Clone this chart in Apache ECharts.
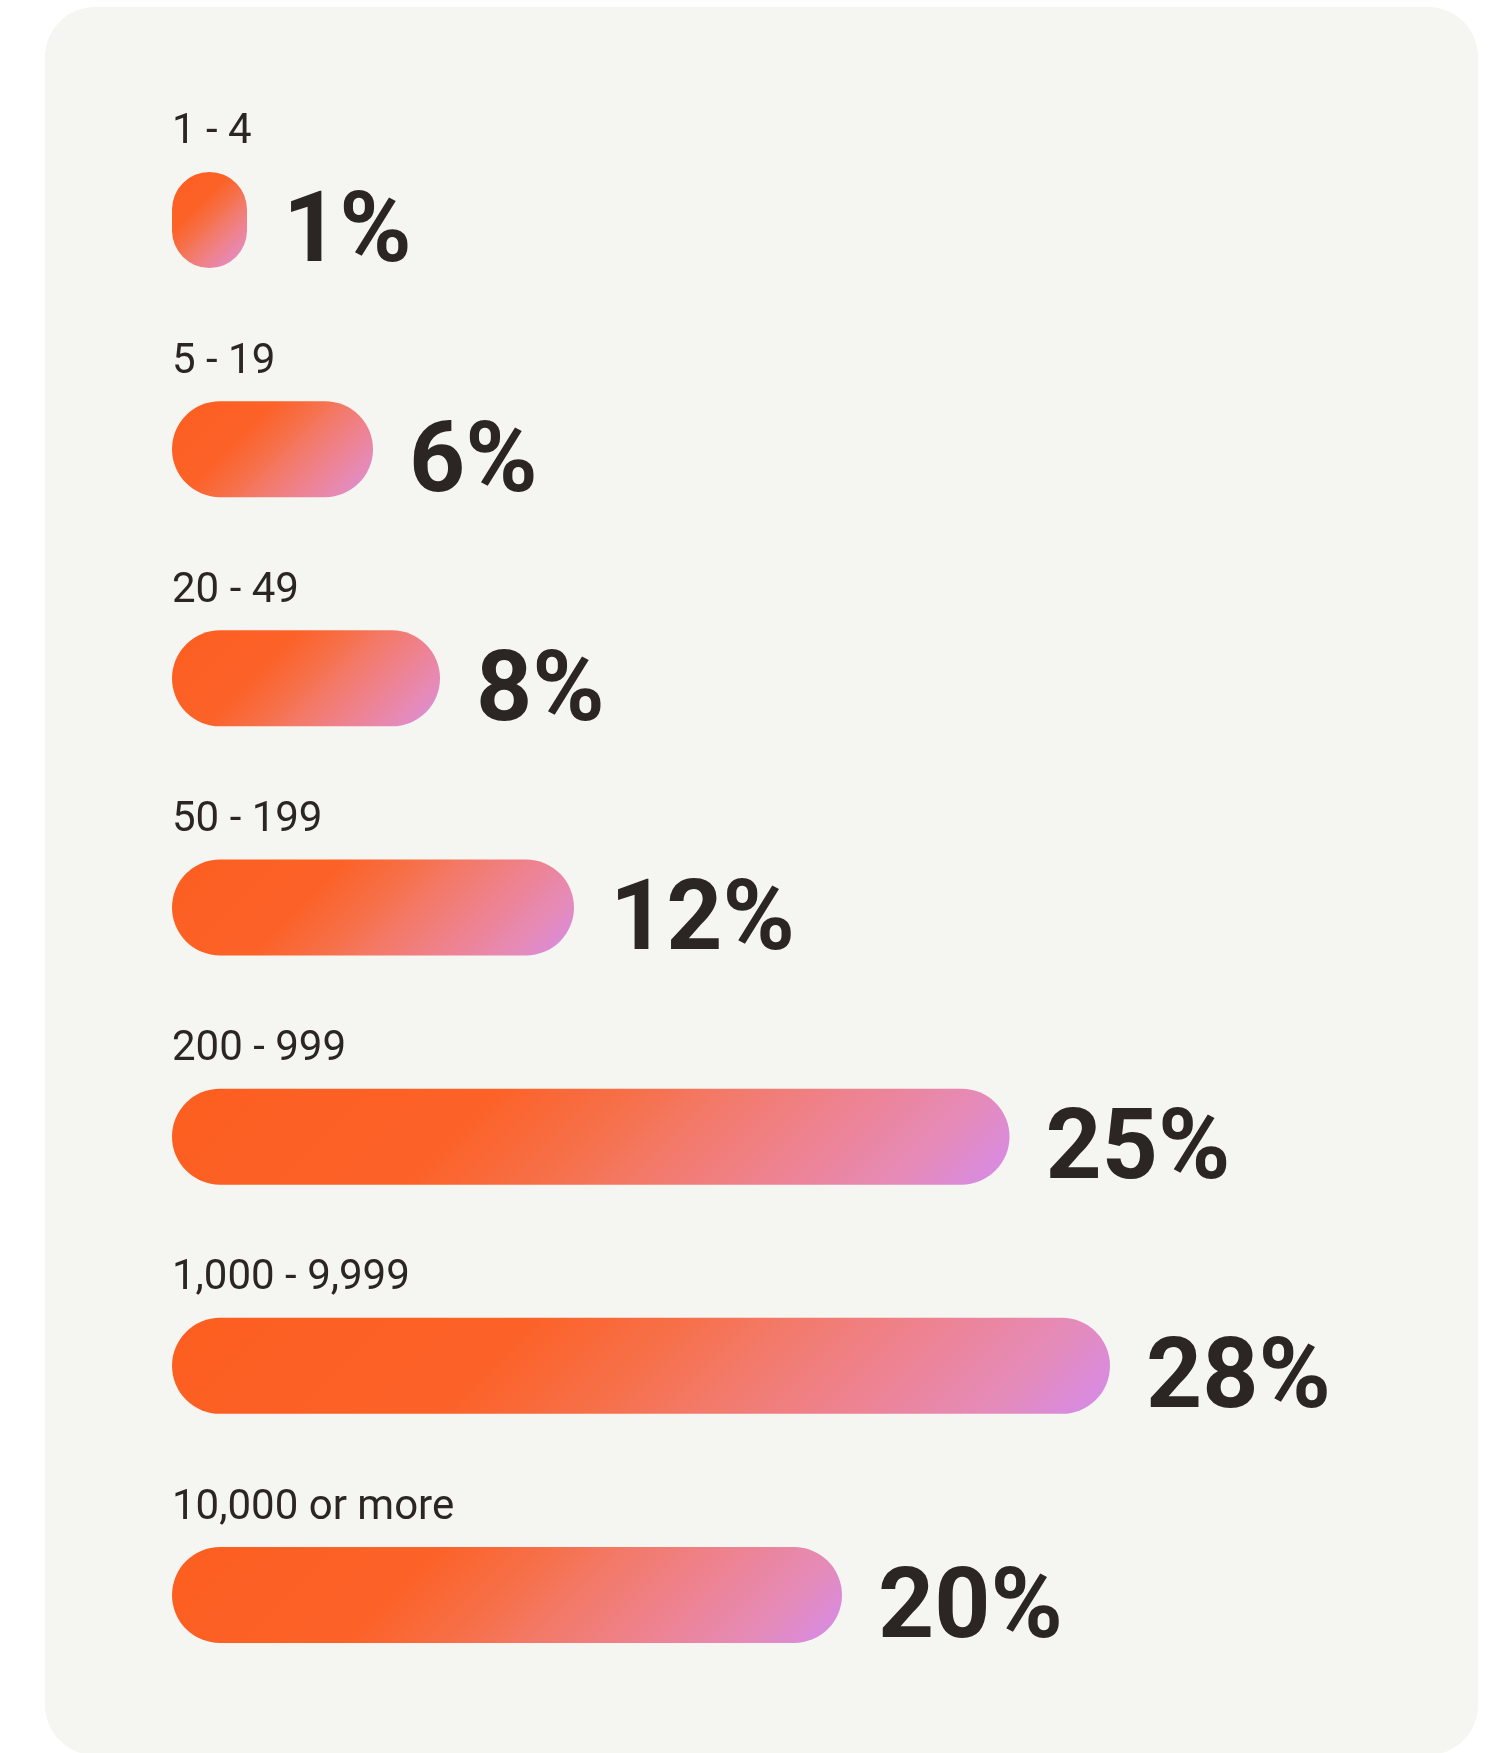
<!DOCTYPE html>
<html>
<head>
<meta charset="utf-8">
<script src="https://cdn.jsdelivr.net/npm/echarts@6/dist/echarts.min.js"></script>
<style>
  html, body { margin: 0; padding: 0; background: #ffffff; }
  #chart { width: 1501px; height: 1753px; }
</style>
</head>
<body>
<div id="chart"></div>
<script>
// Data
const categories = ['1 - 4', '5 - 19', '20 - 49', '50 - 199', '200 - 999', '1,000 - 9,999', '10,000 or more'];
const shares = [1, 6, 8, 12, 25, 28, 20];

const BAR_H = 96;
const MIN_LEN = 75;
const gradientStops = [
  { offset: 0, color: '#fd5e20' },
  { offset: 0.35, color: '#fc6228' },
  { offset: 0.5, color: '#f6704a' },
  { offset: 0.6, color: '#f37a6a' },
  { offset: 0.75, color: '#ed8394' },
  { offset: 0.88, color: '#e58bba' },
  { offset: 1, color: '#d48bec' }
];

// 135deg (top-left -> bottom-right) gradient in pixel space for a w x h box
function diagGradient(w, h) {
  const s = Math.SQRT1_2;
  const L = (w + h) * s;
  const x0px = w / 2 - s * L / 2, y0px = h / 2 - s * L / 2;
  const x0 = x0px / w, y0 = y0px / h;
  return new echarts.graphic.LinearGradient(x0, y0, 1 - x0, 1 - y0, gradientStops);
}

const chart = echarts.init(document.getElementById('chart'), null, { renderer: 'canvas' });

const option = {
  animation: false,
  backgroundColor: '#ffffff',
  graphic: [{
    type: 'rect',
    silent: true,
    z: -10,
    shape: { x: 45, y: 7, width: 1433, height: 1748, r: 50 },
    style: { fill: '#f5f5f1' }
  }],
  grid: { left: 172, top: 105.4, bottom: 43.4, width: 1005 },
  xAxis: { type: 'value', min: 0, max: 30, show: false },
  yAxis: { type: 'category', data: categories, inverse: true, show: false },
  series: [
    {
      type: 'bar',
      data: shares,
      barWidth: BAR_H,
      barMinHeight: MIN_LEN,
      itemStyle: { color: '#fd5e20', borderRadius: 48 },
      label: {
        show: true,
        position: 'right',
        distance: 36,
        offset: [0, 17],
        formatter: p => p.value + '%',
        fontFamily: 'Roboto',
        fontWeight: 'bold',
        fontSize: 98,
        color: '#2b2624'
      }
    },
    {
      type: 'bar',
      data: shares,
      barWidth: BAR_H,
      barGap: '-100%',
      barMinHeight: MIN_LEN,
      silent: true,
      itemStyle: { color: 'rgba(0,0,0,0)' },
      label: {
        show: true,
        position: [0, -18],
        align: 'left',
        verticalAlign: 'bottom',
        formatter: p => categories[p.dataIndex],
        fontFamily: 'Roboto',
        fontSize: 42,
        lineHeight: 42,
        color: '#2b2624'
      }
    }
  ]
};
chart.setOption(option);

// per-bar diagonal gradient, sized from the axis scale
const x0 = chart.convertToPixel({ xAxisIndex: 0 }, 0);
const styledData = shares.map(v => {
  const w = Math.max(MIN_LEN, chart.convertToPixel({ xAxisIndex: 0 }, v) - x0);
  return { value: v, itemStyle: { color: diagGradient(w, BAR_H) } };
});
chart.setOption({ series: [{ data: styledData }, {}] });
</script>
</body>
</html>
